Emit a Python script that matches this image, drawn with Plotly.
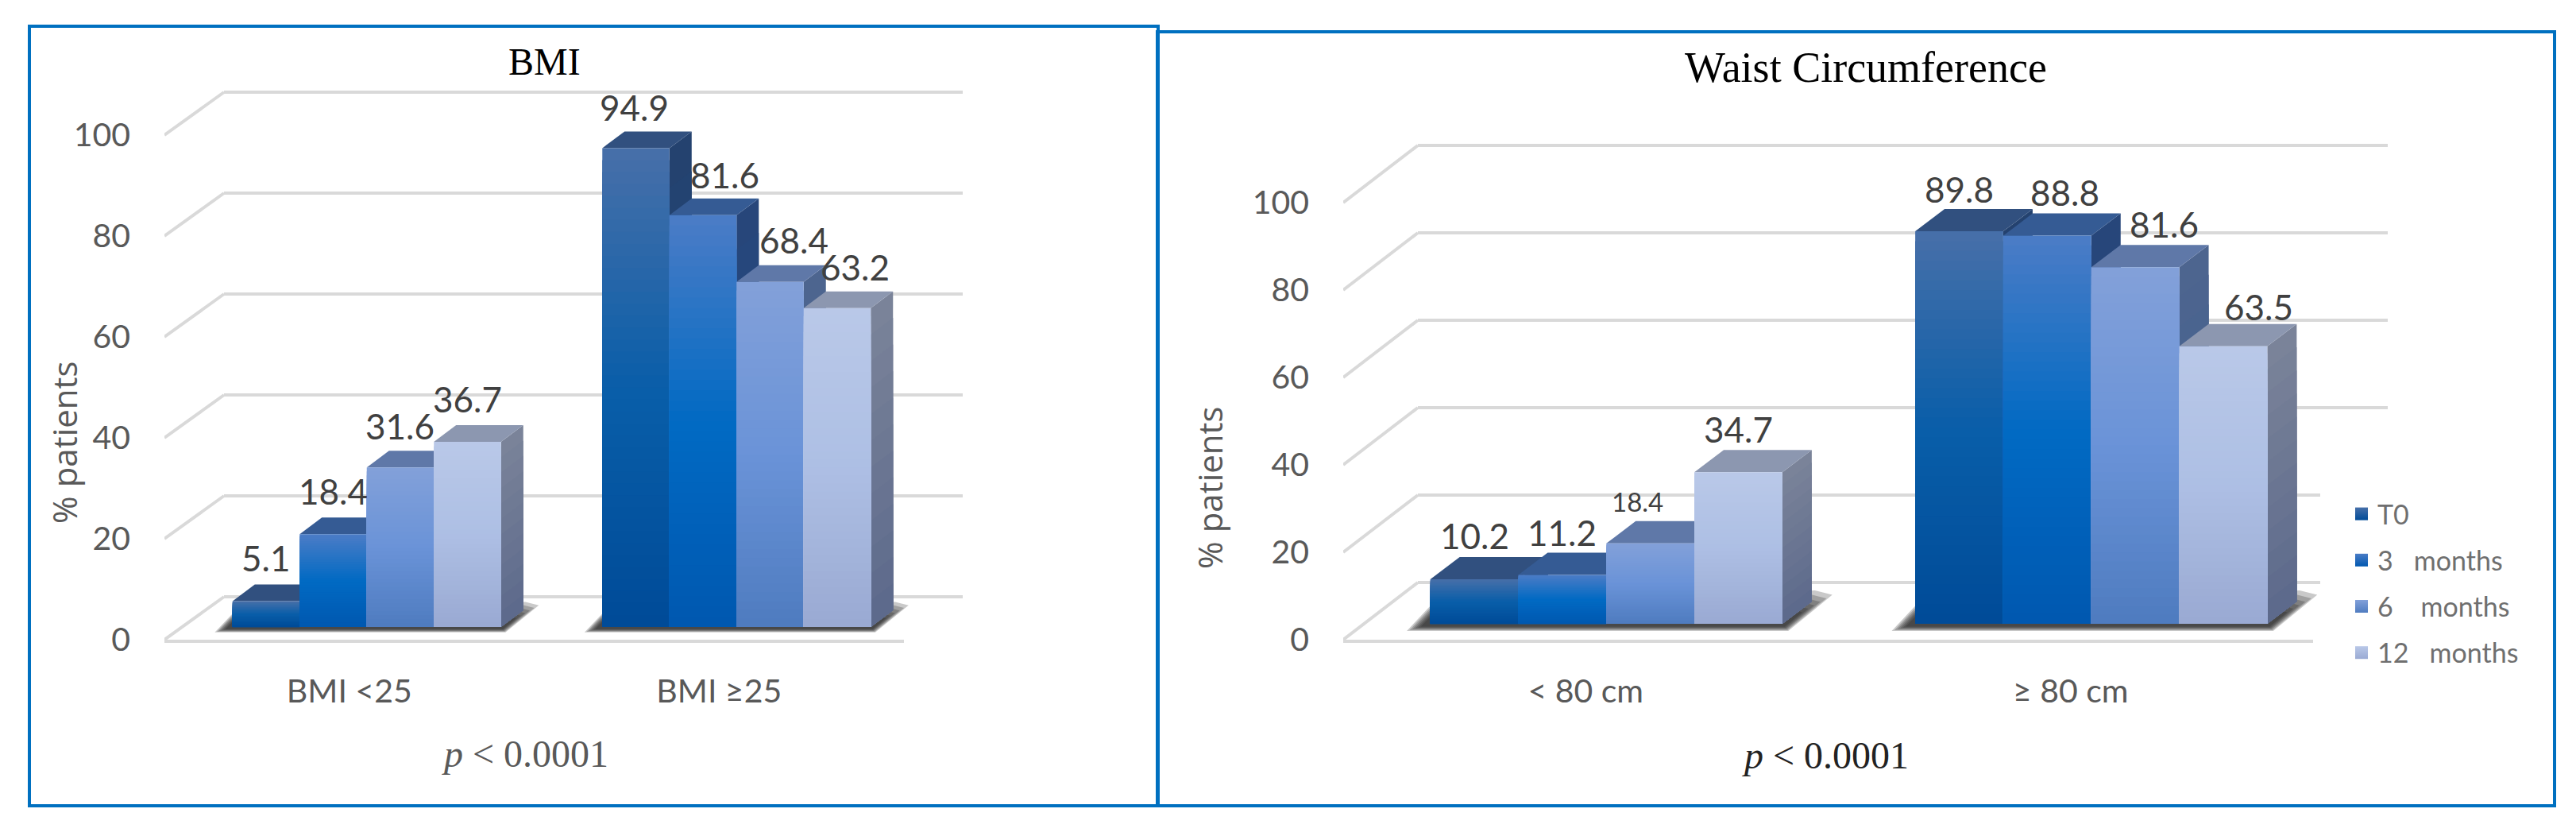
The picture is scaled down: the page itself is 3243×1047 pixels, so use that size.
import plotly.graph_objects as go

W, H = 3243, 1047

# ---------- data ----------
SERIES = ["T0", "3\u00a0\u00a0\u00a0months", "6\u00a0\u00a0\u00a0\u00a0months", "12\u00a0\u00a0\u00a0months"]
Y_TICKS = [0, 20, 40, 60, 80, 100]

BMI_CATEGORIES = ["BMI <25", "BMI \u226525"]
BMI_T0 = [5.1, 94.9]
BMI_3M = [18.4, 81.6]
BMI_6M = [31.6, 68.4]
BMI_12M = [36.7, 63.2]

WAIST_CATEGORIES = ["< 80 cm", "\u2265 80 cm"]
WAIST_T0 = [10.2, 89.8]
WAIST_3M = [11.2, 88.8]
WAIST_6M = [18.4, 81.6]
WAIST_12M = [34.7, 63.5]

# ---------- style ----------
FRONT_STOPS = [
    [(0, "#466fa9"), (0.5, "#095ea9"), (1, "#004b98")],
    [(0, "#4a7cc6"), (0.5, "#016ac3"), (1, "#0058b0")],
    [(0, "#82a0d9"), (0.5, "#6a93d8"), (1, "#4f7cc0")],
    [(0, "#b9c8e8"), (0.5, "#adbfe4"), (1, "#9aaad3")],
]
TOP_FACE = ["#31507f", "#355b94", "#5f78a8", "#8c97b0"]
SIDE_STOPS = [
    [(0, "#24426f"), (1, "#1b4a87")],
    [(0, "#27467a"), (1, "#1c4f90")],
    [(0, "#4d658f"), (1, "#3e5d90")],
    [(0, "#7a8399"), (1, "#5d6a8c")],
]
TEXT = "#595959"
GRID = "#d9d9d9"
BORDER = "#0070c0"
N_FRONT, N_SIDE = 40, 12


def hex_rgb(c):
    return tuple(int(c[i:i + 2], 16) for i in (1, 3, 5))


def ramp(stops, t):
    for (t0, c0), (t1, c1) in zip(stops, stops[1:]):
        if t <= t1:
            f = (t - t0) / (t1 - t0)
            a, b = hex_rgb(c0), hex_rgb(c1)
            return "rgb(%d,%d,%d)" % tuple(round(x + (y - x) * f) for x, y in zip(a, b))
    return stops[-1][1]


PANELS = [
    dict(
        cats=BMI_CATEGORIES, vals=[BMI_T0, BMI_3M, BMI_6M, BMI_12M],
        front=(207, 1138), back=(282, 1212), plane=(229, 1160),
        y0_front=805, y0_back=751, y0_bar=789, ppu=6.35, depth=(28, 21),
        title="BMI", title_xy=(685, 77), title_size=48,
        ptext_xy=(661, 948), ptext_color=TEXT,
        ylabel_xy=(80, 557),
        shifts=[[(-1, 55), (0, 54), (0, 52), (0, 54)], [(-2, 51), (27, 51), (30, 53), (23, 52)]],
        label_sizes=[[44] * 4, [44] * 4],
    ),
    dict(
        cats=WAIST_CATEGORIES, vals=[WAIST_T0, WAIST_3M, WAIST_6M, WAIST_12M],
        front=(1691, 2912), back=(1785, 3006), plane=(1717, 2938),
        y0_front=805, y0_back=733, y0_bar=785, ppu=5.5, depth=(37, 28),
        title="Waist Circumference", title_xy=(2349, 85), title_size=54,
        ptext_xy=(2298, 950), ptext_color="#222222",
        ylabel_xy=(1522, 614),
        shifts=[[(0, 55), (0, 53), (-16, 53), (0, 54)], [(0, 53), (22, 55), (36, 54), (45, 50)]],
        label_sizes=[[44, 44, 33, 44], [44] * 4],
    ),
]

BAR_UNITS = 0.1815
FONT = "Lato"

fig = go.Figure()
layout = dict(
    width=W, height=H, autosize=False, margin=dict(l=0, r=0, t=0, b=0, pad=0),
    paper_bgcolor="white", plot_bgcolor="rgba(0,0,0,0)", barmode="overlay", showlegend=True,
    font=dict(family=FONT, color=TEXT),
)
shapes, annotations = [], []
axis_no = 0


def new_axes(xdom_px, y_top_px, y_bot_px, xr, yr, **ykw):
    global axis_no
    axis_no += 1
    s = "" if axis_no == 1 else str(axis_no)
    xa = dict(domain=[xdom_px[0] / W, xdom_px[1] / W], range=xr, anchor="y" + s, automargin=False,
              showgrid=False, zeroline=False, showticklabels=False, ticks="")
    ya = dict(domain=[1 - y_bot_px / H, 1 - y_top_px / H], range=yr, anchor="x" + s, automargin=False,
              showgrid=False, zeroline=False, showticklabels=False, ticks="", showline=False)
    ya.update(ykw)
    layout["xaxis" + s] = xa
    layout["yaxis" + s] = ya
    return "x" + s, "y" + s, xa, ya


for p in PANELS:
    ppu = p["ppu"]
    x_unit = (p["front"][1] - p["front"][0]) / 2  # px per category
    dxpx, dypx = p["depth"]
    dx, dy = dxpx / x_unit, dypx / ppu

    # back wall with gridlines (range padded so the 0 and 100 lines are kept)
    bx, by, _, _ = new_axes(p["back"], p["y0_back"] - 104 * ppu, p["y0_back"] + 4 * ppu, [0, 1], [-4, 104],
                            showgrid=True, gridcolor=GRID, gridwidth=4,
                            tickmode="array", tickvals=Y_TICKS)
    fig.add_trace(go.Scatter(x=[None], y=[None], xaxis=bx, yaxis=by, showlegend=False, hoverinfo="skip"))

    # front plane: the real axis labels and the floor edge
    fx, fy, xa, ya = new_axes(p["front"], p["y0_front"] - 116 * ppu, p["y0_front"], [-0.5, 1.5], [0, 116],
                              showticklabels=True, tickmode="array", tickvals=Y_TICKS,
                              tickfont=dict(family=FONT, size=41, color=TEXT), ticklabelstandoff=42)
    xa.update(showline=True, linecolor=GRID, linewidth=4, showticklabels=True, tickmode="array",
              tickvals=[0, 1], ticktext=p["cats"], tickfont=dict(family=FONT, size=41, color=TEXT),
              ticklabelstandoff=26)
    fig.add_trace(go.Scatter(x=[None], y=[None], xaxis=fx, yaxis=fy, showlegend=False, hoverinfo="skip"))
    back_dx = (p["back"][0] - p["front"][0]) / x_unit
    back_dy = (p["y0_front"] - p["y0_back"]) / ppu
    for t in Y_TICKS:
        shapes.append(dict(type="line", xref=fx, yref=fy, x0=-0.5, y0=t, x1=-0.5 + back_dx, y1=t + back_dy,
                           line=dict(color=GRID, width=4), layer="below"))

    # depth faces and shadow
    top_px = p["y0_bar"] - 105 * ppu - 40
    bot_px = p["y0_bar"] + 10 * ppu
    dmx, dmy, _, _ = new_axes(p["plane"], top_px, bot_px, [-0.5, 1.5], [-10, 105 + 40 / ppu])
    for g in range(2):
        L = g - 2 * BAR_UNITS
        R = g + 2 * BAR_UNITS
        for f in (1.0, 0.88, 0.76, 0.64, 0.52, 0.4):
            xs = [L - 0.8 * f * dx, R + 0.2 * f * dx, R + 1.7 * f * dx, R + 1.1 * dx * f, L]
            ys = [-0.32 * f * dy, -0.32 * f * dy, 1.3 * f * dy, 1.5 * f * dy, 0.8 * f * dy]
            fig.add_trace(go.Scatter(x=xs, y=ys, xaxis=dmx, yaxis=dmy, mode="lines", fill="toself",
                                     line=dict(width=0), fillcolor="rgba(30,30,30,0.24)",
                                     showlegend=False, hoverinfo="skip"))
        for s, vals in enumerate(p["vals"]):
            v = vals[g]
            xl = L + s * BAR_UNITS
            xr = xl + BAR_UNITS
            for i in range(N_SIDE):
                h = v * (1 - i / N_SIDE)
                fig.add_trace(go.Scatter(
                    x=[xr, xr + dx, xr + dx, xr, xr], y=[0, dy, h + dy, h, 0],
                    xaxis=dmx, yaxis=dmy, mode="lines", fill="toself", line=dict(width=0),
                    fillcolor=ramp(SIDE_STOPS[s], i / (N_SIDE - 1)), showlegend=False, hoverinfo="skip"))
            fig.add_trace(go.Scatter(
                x=[xl, xr, xr + dx, xl + dx, xl], y=[v, v, v + dy, v + dy, v],
                xaxis=dmx, yaxis=dmy, mode="lines", fill="toself", line=dict(width=0),
                fillcolor=TOP_FACE[s], showlegend=False, hoverinfo="skip"))

    # front faces
    ax, ay, _, _ = new_axes(p["plane"], top_px, bot_px, [-0.5, 1.5], [-10, 105 + 40 / ppu])
    for s, vals in enumerate(p["vals"]):
        offset = -2 * BAR_UNITS + s * BAR_UNITS
        for g, v in enumerate(vals):
            fig.add_trace(go.Bar(
                x=[g] * N_FRONT,
                y=[v * (1 - i / N_FRONT) for i in range(N_FRONT)],
                width=BAR_UNITS, offset=offset, xaxis=ax, yaxis=ay,
                marker=dict(color=[ramp(FRONT_STOPS[s], i / (N_FRONT - 1)) for i in range(N_FRONT)],
                            line=dict(width=0)),
                showlegend=False, hovertemplate=f"{v}<extra></extra>"))
            sx, sy = p["shifts"][g][s]
            annotations.append(dict(
                x=g + offset + BAR_UNITS / 2, y=v, xref=ax, yref=ay, xshift=sx, yshift=sy,
                text=f"{v}", showarrow=False, xanchor="center", yanchor="middle",
                font=dict(family=FONT, size=p["label_sizes"][g][s], color="#404040")))

    annotations.append(dict(x=p["title_xy"][0] / W, y=1 - p["title_xy"][1] / H, xref="paper", yref="paper",
                            text=p["title"], showarrow=False, xanchor="center", yanchor="middle",
                            font=dict(family="Liberation Serif", size=p["title_size"], color="#000000")))
    annotations.append(dict(x=p["ptext_xy"][0] / W, y=1 - p["ptext_xy"][1] / H, xref="paper", yref="paper",
                            text="<i>p</i> < 0.0001", showarrow=False, xanchor="center", yanchor="middle",
                            font=dict(family="Liberation Serif", size=48, color=p["ptext_color"])))
    annotations.append(dict(x=p["ylabel_xy"][0] / W, y=1 - p["ylabel_xy"][1] / H, xref="paper", yref="paper",
                            text="% patients", textangle=-90, showarrow=False, xanchor="center", yanchor="middle",
                            font=dict(family="Open Sans", size=42, color=TEXT)))

# panel frames
for x0, y0, x1, y1 in [(37, 33, 1458, 1014), (1457, 40, 3216, 1014)]:
    shapes.append(dict(type="rect", xref="paper", yref="paper", x0=x0 / W, x1=x1 / W,
                       y0=1 - y1 / H, y1=1 - y0 / H, line=dict(color=BORDER, width=4),
                       fillcolor="rgba(0,0,0,0)", layer="above"))
# clear area behind the legend
shapes.append(dict(type="rect", xref="paper", yref="paper", x0=2921 / W, x1=3212 / W,
                   y0=1 - 860 / H, y1=1 - 600 / H, line=dict(width=0), fillcolor="white", layer="above"))

# legend entries
for s, name in enumerate(SERIES):
    fig.add_trace(go.Scatter(
        x=[None], y=[None], name=name, mode="markers", legendgroup=name,
        marker=dict(symbol="square", size=21, color=FRONT_STOPS[s][0][1],
                    gradient=dict(type="vertical", color=FRONT_STOPS[s][2][1])),
        xaxis="x", yaxis="y", hoverinfo="skip"))

layout.update(
    shapes=shapes, annotations=annotations,
    legend=dict(x=2953 / W, y=1 - 618 / H, xanchor="left", yanchor="top", bgcolor="rgba(0,0,0,0)",
                tracegroupgap=11, font=dict(family=FONT, size=34, color="#6f6f6f"),
                itemclick=False, itemdoubleclick=False),
)
fig.update_layout(**layout)
fig.write_html("out.html", config=dict(displayModeBar=False),
               post_script="document.body.style.margin='0';document.documentElement.style.overflow='hidden';")
